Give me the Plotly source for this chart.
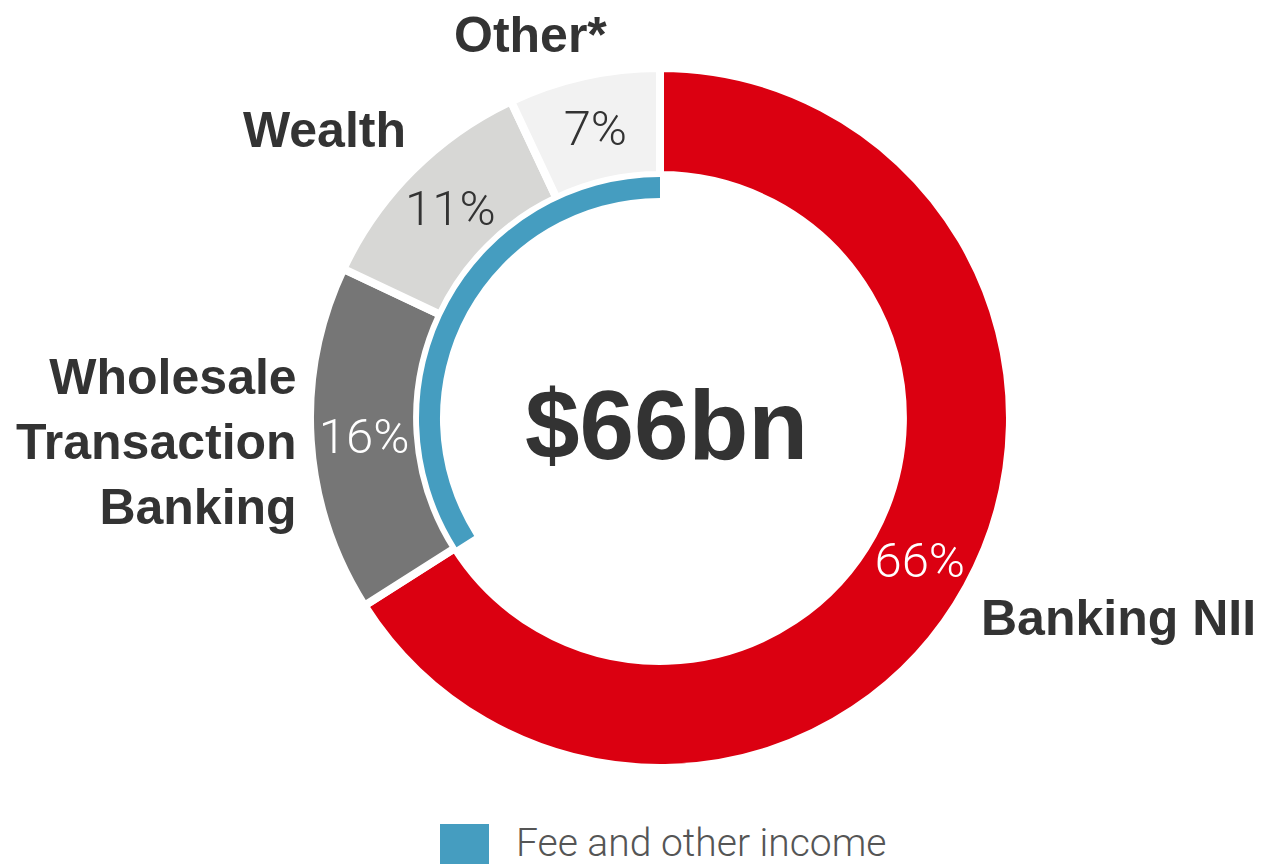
import plotly.graph_objects as go

# Revenue mix data
segments = ["Banking NII", "Wholesale Transaction Banking", "Wealth", "Other*"]
shares = [66, 16, 11, 7]
seg_colors = ["#db0011", "#767676", "#d7d7d5", "#f2f2f2"]
pct_colors = ["white", "white", "#333333", "#333333"]

fee_labels = ["Banking NII", "Fee and other income"]
fee_shares = [66, 34]

total_label = "$66bn"

W, H = 1261, 864
OFF = 8  # page body margin
cx, cy = 660 - OFF, 418 - OFF  # donut centre in px (from top-left)


def dom(r):
    return dict(
        x=[(cx - r) / W, (cx + r) / W],
        y=[(H - cy - r) / H, (H - cy + r) / H],
    )


def px_x(x):
    return (x - OFF) / W


def px_y(y):
    return (H - (y - OFF)) / H


fig = go.Figure()

# Outer ring: share of revenue
fig.add_trace(
    go.Pie(
        labels=segments,
        values=shares,
        sort=False,
        direction="clockwise",
        rotation=0,
        hole=0.694,
        domain=dom(350),
        marker=dict(colors=seg_colors, line=dict(color="white", width=8)),
        textinfo="percent",
        textposition="inside",
        insidetextorientation="horizontal",
        textfont=dict(family="Roboto", size=49, color=pct_colors, weight=300),
        showlegend=False,
        hoverinfo="label+percent",
    )
)

# Inner thin arc: fee and other income
fig.add_trace(
    go.Pie(
        labels=fee_labels,
        values=fee_shares,
        sort=False,
        direction="clockwise",
        rotation=0,
        hole=0.913,
        domain=dom(241),
        marker=dict(colors=["rgba(0,0,0,0)", "#459dc0"], line=dict(width=0)),
        textinfo="none",
        showlegend=False,
        hoverinfo="label+percent",
    )
)

label_font = dict(family="Liberation Sans", size=50, color="#333333", weight="bold")

annotations = [
    dict(text="Other*", x=px_x(530), y=px_y(35), xanchor="center", yanchor="middle"),
    dict(text="Wealth", x=px_x(408), y=px_y(130), xanchor="right", yanchor="middle"),
    dict(
        text="Wholesale<br>Transaction<br>Banking",
        x=px_x(299),
        y=px_y(442),
        xanchor="right",
        yanchor="middle",
        align="right",
    ),
    dict(text="Banking NII", x=px_x(979), y=px_y(618), xanchor="left", yanchor="middle"),
]
for a in annotations:
    a.update(xref="paper", yref="paper", showarrow=False, font=label_font)

# Centre total
annotations.append(
    dict(
        text=total_label,
        x=px_x(666),
        y=px_y(425),
        xref="paper",
        yref="paper",
        showarrow=False,
        xanchor="center",
        yanchor="middle",
        font=dict(family="Liberation Sans", size=98, color="#333333", weight="bold"),
    )
)

# Legend text
annotations.append(
    dict(
        text="Fee and other income",
        x=px_x(514),
        y=px_y(843),
        xref="paper",
        yref="paper",
        showarrow=False,
        xanchor="left",
        yanchor="middle",
        font=dict(family="Roboto", size=39, color="#555555", weight=300),
    )
)

fig.update_layout(
    width=W,
    height=H,
    margin=dict(l=0, r=0, t=0, b=0),
    paper_bgcolor="white",
    plot_bgcolor="white",
    annotations=annotations,
    shapes=[
        dict(
            type="rect",
            xref="paper",
            yref="paper",
            x0=px_x(440),
            x1=px_x(489),
            y0=px_y(873),
            y1=px_y(824),
            fillcolor="#459dc0",
            line=dict(width=0),
        )
    ],
)

fig.write_html("out.html")
